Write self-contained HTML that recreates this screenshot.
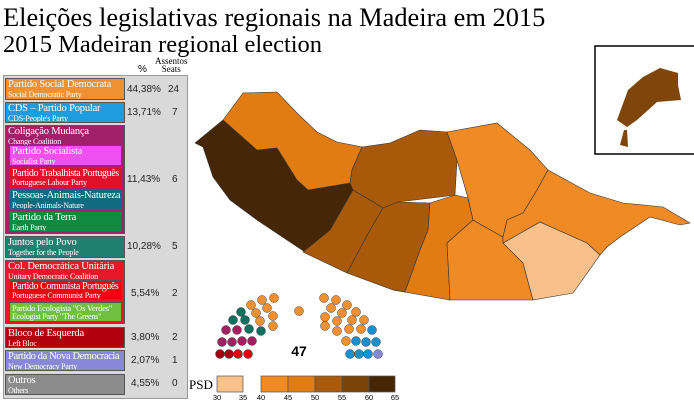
<!DOCTYPE html>
<html><head><meta charset="utf-8"><style>
body{margin:0;width:694px;height:405px;background:#fff;overflow:hidden;font-family:"Liberation Serif",serif;position:relative}
.t{position:absolute;white-space:nowrap}
.b{position:absolute;color:#fff;line-height:1;box-sizing:border-box;border:1px solid #555;white-space:nowrap;overflow:hidden}
.b .m{font-size:10.5px;display:block;padding:1px 0 0 2px;letter-spacing:-0.2px}
.b .s{font-size:8px;display:block;padding:0 0 0 2px;letter-spacing:-0.2px}
.n{position:absolute;font-family:"Liberation Sans",sans-serif;font-size:10px;color:#222}
</style></head><body>
<div class="t" style="left:3px;top:2px;font-size:26.4px">Eleições legislativas regionais na Madeira em 2015</div>
<div class="t" style="left:3px;top:31px;font-size:24.5px">2015 Madeiran regional election</div>
<div class="t" style="left:138px;top:64px;font-size:10px;font-family:'Liberation Sans',sans-serif">%</div>
<div class="t" style="left:155px;top:57px;font-size:9px;line-height:8px;text-align:center">Assentos<br>Seats</div>
<div style="position:absolute;left:3px;top:75px;width:183px;height:322px;background:#d9d9d9;border:1px solid #999"></div>
<div class="b" style="left:5px;top:78px;width:120px;height:22px;background:#f09030"><span class="m">Partido Social Democrata</span><span class="s">Social Democratic Party</span></div>
<div class="b" style="left:5px;top:102px;width:120px;height:21px;background:#1e9ce0"><span class="m">CDS – Partido Popular</span><span class="s">CDS-People's Party</span></div>
<div class="b" style="left:5px;top:125px;width:120px;height:109px;background:#a0206a"><span class="m">Coligação Mudança</span><span class="s">Change Coalition</span></div>
<div class="b" style="left:9px;top:145px;width:113px;height:21px;background:#f050f0"><span class="m">Partido Socialista</span><span class="s">Socialist Party</span></div>
<div class="b" style="left:9px;top:167px;width:113px;height:21px;background:#e0102a"><span class="m" style="font-size:10px;letter-spacing:-0.4px">Partido Trabalhista Português</span><span class="s">Portuguese Labour Party</span></div>
<div class="b" style="left:9px;top:189px;width:113px;height:21px;background:#106a80"><span class="m">Pessoas-Animais-Natureza</span><span class="s">People-Animals-Nature</span></div>
<div class="b" style="left:9px;top:211px;width:113px;height:21px;background:#108a40"><span class="m">Partido da Terra</span><span class="s">Earth Party</span></div>
<div class="b" style="left:5px;top:236px;width:120px;height:22px;background:#208070"><span class="m">Juntos pelo Povo</span><span class="s">Together for the People</span></div>
<div class="b" style="left:5px;top:260px;width:120px;height:64px;background:#e8182a"><span class="m">Col. Democrática Unitária</span><span class="s">Unitary Democratic Coalition</span></div>
<div class="b" style="left:9px;top:280px;width:113px;height:20px;background:#f00010"><span class="m" style="font-size:10px;letter-spacing:-0.4px">Partido Comunista Português</span><span class="s">Portuguese Communist Party</span></div>
<div class="b" style="left:9px;top:302px;width:113px;height:20px;background:#70c040"><span class="m" style="font-size:8.5px">Partido Ecologista "Os Verdes"</span><span class="s">Ecologist Party "The Greens"</span></div>
<div class="b" style="left:5px;top:327px;width:120px;height:21px;background:#b00010"><span class="m">Bloco de Esquerda</span><span class="s">Left Bloc</span></div>
<div class="b" style="left:5px;top:350px;width:120px;height:21px;background:#8888d8"><span class="m" style="letter-spacing:-0.4px">Partido da Nova Democracia</span><span class="s">New Democracy Party</span></div>
<div class="b" style="left:5px;top:374px;width:120px;height:21px;background:#8c8c8c"><span class="m">Outros</span><span class="s">Others</span></div>
<div class="n" style="left:127px;top:84px">44,38%</div><div class="n" style="left:168px;top:84px">24</div>
<div class="n" style="left:127px;top:107px">13,71%</div><div class="n" style="left:172px;top:107px">7</div>
<div class="n" style="left:127px;top:174px">11,43%</div><div class="n" style="left:172px;top:174px">6</div>
<div class="n" style="left:127px;top:241px">10,28%</div><div class="n" style="left:172px;top:241px">5</div>
<div class="n" style="left:131px;top:288px">5,54%</div><div class="n" style="left:172px;top:288px">2</div>
<div class="n" style="left:131px;top:332px">3,80%</div><div class="n" style="left:172px;top:332px">2</div>
<div class="n" style="left:131px;top:355px">2,07%</div><div class="n" style="left:172px;top:355px">1</div>
<div class="n" style="left:131px;top:378px">4,55%</div><div class="n" style="left:172px;top:378px">0</div>
<svg width="694" height="405" style="position:absolute;left:0;top:0" stroke="#333" stroke-width="0.6">
<polygon fill="#452708" points="195,143 223,120 257,150 277,148 297,180 308,190 350,183 353,190 330,230 305,252 257,220 230,200 213,177 203,147"/>
<polygon fill="#e07c12" points="223,120 243,93 277,92 297,113 317,132 337,142 362,147 352,170 350,183 308,190 297,180 277,148 257,150"/>
<polygon fill="#a85a0a" points="362,147 390,143 420,130 447,132 457,160 455,195 440,197 398,202 383,208 353,190 350,183 352,170"/>
<polygon fill="#a85a0a" points="353,190 383,208 370,230 347,273 303,252 330,230"/>
<polygon fill="#a85a0a" points="383,208 398,202 430,203 428,230 420,250 405,292 393,290 347,273 370,230"/>
<polygon fill="#e07c12" points="430,203 455,195 468,198 473,220 447,243 450,300 393,290 405,292 420,250 428,230"/>
<polygon fill="#f08a24" points="473,220 503,237 503,243 523,263 533,300 450,300 447,243"/>
<polygon fill="#f8c08a" points="503,243 540,222 587,243 600,255 573,293 533,300 523,263"/>
<polygon fill="#f08a24" points="447,132 497,123 530,150 548,170 537,190 523,213 507,220 503,237 473,220 468,198 457,160"/>
<polygon fill="#f08a24" points="548,170 590,193 623,203 663,207 690,223 680,225 650,217 620,237 607,247 600,255 587,243 540,222 503,243 503,237 507,220 523,213 537,190"/>
<rect x="595" y="46" width="110" height="108" fill="none" stroke="#000" stroke-width="1.5"/>
<polygon fill="#80450a" stroke="none" points="660,68 678,73 678,85 681,100 657,102 637,120 627,127 617,120 628,90 643,77"/>
<polygon fill="#80450a" stroke="none" points="624,130 627,130 628,147 620,145"/>
<g stroke="#444" stroke-width="0.5">
<g fill="#a00010"><circle cx="220" cy="354" r="4.5"/><circle cx="229" cy="354" r="4.5"/></g>
<g fill="#e00010"><circle cx="238" cy="354" r="4.5"/><circle cx="248" cy="354" r="4.5"/></g>
<g fill="#a02060"><circle cx="222" cy="342" r="4.5"/><circle cx="232" cy="342" r="4.5"/><circle cx="242" cy="341" r="4.5"/><circle cx="252" cy="341" r="4.5"/><circle cx="226" cy="330" r="4.5"/><circle cx="237" cy="330" r="4.5"/></g>
<g fill="#107060"><circle cx="233" cy="320" r="4.5"/><circle cx="245" cy="320" r="4.5"/><circle cx="249" cy="329" r="4.5"/><circle cx="261" cy="331" r="4.5"/><circle cx="241" cy="312" r="4.5"/></g>
<g fill="#f09030"><circle cx="251" cy="305" r="4.5"/><circle cx="262" cy="300" r="4.5"/><circle cx="274" cy="298" r="4.5"/><circle cx="256" cy="313" r="4.5"/><circle cx="267" cy="308" r="4.5"/><circle cx="260" cy="321" r="4.5"/><circle cx="273" cy="316" r="4.5"/><circle cx="273" cy="326" r="4.5"/><circle cx="299" cy="311" r="4.5"/>
<circle cx="324" cy="298" r="4.5"/><circle cx="336" cy="300" r="4.5"/><circle cx="347" cy="305" r="4.5"/><circle cx="331" cy="308" r="4.5"/><circle cx="342" cy="313" r="4.5"/><circle cx="356" cy="312" r="4.5"/><circle cx="325" cy="317" r="4.5"/><circle cx="337" cy="321" r="4.5"/><circle cx="352" cy="320" r="4.5"/><circle cx="364" cy="320" r="4.5"/><circle cx="325" cy="326" r="4.5"/><circle cx="337" cy="331" r="4.5"/><circle cx="349" cy="329" r="4.5"/><circle cx="361" cy="329" r="4.5"/><circle cx="346" cy="341" r="4.5"/></g>
<g fill="#1890d0"><circle cx="372" cy="330" r="4.5"/><circle cx="356" cy="341" r="4.5"/><circle cx="366" cy="342" r="4.5"/><circle cx="376" cy="342" r="4.5"/><circle cx="350" cy="354" r="4.5"/><circle cx="359" cy="354" r="4.5"/><circle cx="368" cy="354" r="4.5"/></g>
<circle cx="378" cy="354" r="4.5" fill="#8888d0"/>
</g>
<text x="299" y="356" font-family="Liberation Sans" font-weight="bold" font-size="14" text-anchor="middle" stroke="none">47</text>
<text x="189" y="389" font-family="Liberation Serif" font-size="13" stroke="none">PSD</text>
<g stroke="#555" stroke-width="0.7">
<rect x="217" y="376" width="26" height="16" fill="#f8c08a"/>
<rect x="261" y="376" width="27" height="16" fill="#f08a24"/>
<rect x="288" y="376" width="27" height="16" fill="#e07c12"/>
<rect x="315" y="376" width="27" height="16" fill="#a85a0a"/>
<rect x="342" y="376" width="27" height="16" fill="#7a4108"/>
<rect x="369" y="376" width="26" height="16" fill="#452708"/>
</g>
<g font-family="Liberation Sans" font-size="7.5" text-anchor="middle" stroke="none">
<text x="217" y="400">30</text><text x="243" y="400">35</text><text x="261" y="400">40</text><text x="288" y="400">45</text><text x="315" y="400">50</text><text x="342" y="400">55</text><text x="369" y="400">60</text><text x="395" y="400">65</text></g>
</svg>
</body></html>
